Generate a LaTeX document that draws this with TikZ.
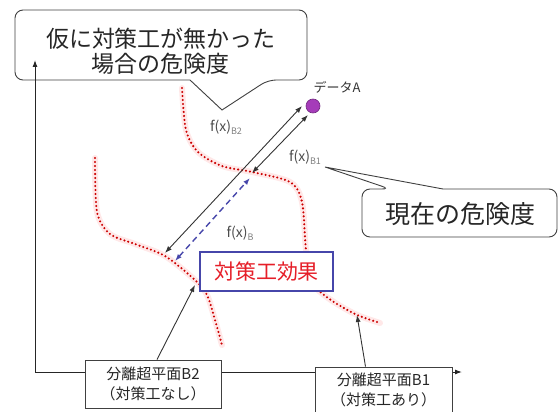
\documentclass[tikz,border=0pt]{standalone}
\usepackage{fontspec}
\setmainfont{Noto Sans CJK JP}
\usetikzlibrary{arrows.meta}

\definecolor{dotpurple}{RGB}{165,60,185}
\definecolor{effectred}{RGB}{230,30,40}
\definecolor{effectblue}{RGB}{70,70,170}

\newcommand{\subidx}[1]{\raisebox{-0.45ex}{\fontsize{9}{9}\selectfont\color{black!50}#1}}

\tikzset{
  tip/.style={-{Latex[length=7pt,width=5pt]}},
  callline/.style={draw=black!75, line width=0.9pt, fill=white},
  calltext/.style={align=center, text=black!85, font=\fontsize{23}{25}\selectfont},
  planebox/.style={draw=black!75, line width=0.9pt, fill=white, align=center,
    inner sep=0pt, font=\fontsize{15}{20}\selectfont, text=black!85},
  effectbox/.style={draw=effectblue, line width=1.1pt, fill=white, inner sep=0pt,
    minimum width=133pt, minimum height=39pt, text=effectred, font=\fontsize{21}{24}\selectfont},
  flabel/.style={text=black!70, font=\fontsize{14}{16}\selectfont, inner sep=1pt},
  halo/.style={red!9, line width=6pt, line cap=round},
  boundary/.style={red!80!black, line width=2.3pt, dash pattern=on 0pt off 4pt, line cap=round},
  dist/.style={{Latex[length=7pt,width=5pt]}-{Latex[length=7pt,width=5pt]}, line width=0.9pt, black!80},
  effdist/.style={{Latex[length=7pt,width=5pt]}-{Latex[length=7pt,width=5pt]}, line width=1.4pt,
    effectblue, dash pattern=on 6pt off 4pt}
}

\begin{document}
\begin{tikzpicture}[x=1pt,y=-1pt]
  \useasboundingbox (0,0) rectangle (558,412);

  % callouts
  \draw[callline] (222,110) -- (190,80) [rounded corners=8pt] -- (15,80) -- (15,10) -- (307,10) -- (307,80) -- (268,80) [sharp corners] -- cycle;
  \node[calltext] (hypo) at (161,51) {仮に対策工が無かった\\場合の危険度};

  \draw[callline] (325,167) -- (443,189) [rounded corners=8pt] -- (557,189) -- (557,237) -- (362,237) -- (362,189) -- (390,189) [sharp corners] -- cycle;
  \node[calltext, font=\fontsize{25}{27}\selectfont] (now) at (460,214) {現在の危険度};

  % Axes
  \coordinate (origin) at (35,372);
  \coordinate (ytip) at (35,60);
  \coordinate (xtip) at (462,372);
  \draw[line width=1pt, black!85, {Latex[length=7pt,width=5pt]}-{Latex[length=7pt,width=5pt]}] (ytip) |- (xtip);

  % separating hyperplanes
  \draw[halo] plot[smooth] coordinates {(95,158) (97,212) (110,234) (135,244) (165,256) (195,280) (207,295) (215,320) (222,345)};
  \draw[boundary] plot[smooth] coordinates {(95,158) (97,212) (110,234) (135,244) (165,256) (195,280) (207,295) (215,320) (222,345)};
  \draw[halo] plot[smooth] coordinates {(182,88) (186,130) (198,152) (222,166) (252,172) (290,182) (302,202) (306,250) (312,282) (328,298) (355,314) (380,323)};
  \draw[boundary] plot[smooth] coordinates {(182,88) (186,130) (198,152) (222,166) (252,172) (290,182) (302,202) (306,250) (312,282) (328,298) (355,314) (380,323)};

  % data point
  \node[circle, fill=dotpurple, draw=dotpurple!70!black, line width=0.6pt, minimum size=14pt, inner sep=0pt] (dataA) at (313,106) {};
  \node[text=black!80, font=\fontsize{13}{14}\selectfont] (labelA) at (337,87) {データA};

  % distances
  \coordinate (footB2) at (165,253);
  \coordinate (nearA1) at (302,106);
  \coordinate (footB1) at (252,173);
  \coordinate (nearA2) at (308,115);
  \coordinate (effLow) at (175,261);
  \coordinate (effHigh) at (250,178);
  \draw[dist] (footB2) -- (nearA1);
  \draw[dist] (footB1) -- (nearA2);
  \draw[effdist] (effLow) -- (effHigh);

  \node[flabel] (fB2) at (226,127) {f(x)\subidx{B2}};
  \node[flabel] (fB1) at (305,157) {f(x)\subidx{B1}};
  \node[flabel] (fB) at (240,233) {f(x)\subidx{B}};

  % effect box
  \node[effectbox] (effect) at (266.5,271.5) {対策工効果};

  % hyperplane boxes
  \node[planebox, minimum width=136pt, minimum height=48pt] (planeB2) at (153,384) {分離超平面B2\\（対策工なし）};
  \node[planebox, minimum width=137pt, minimum height=45pt] (planeB1) at (383.5,389.5) {分離超平面B1\\（対策工あり）};
  \coordinate (tipB2) at (195,285);
  \coordinate (tipB1) at (357,315);
  \draw[tip, line width=0.9pt, black!80] ([xshift=4pt]planeB2.north) -- (tipB2);
  \draw[tip, line width=0.9pt, black!80] ([xshift=-18pt]planeB1.north) -- (tipB1);
\end{tikzpicture}
\end{document}
